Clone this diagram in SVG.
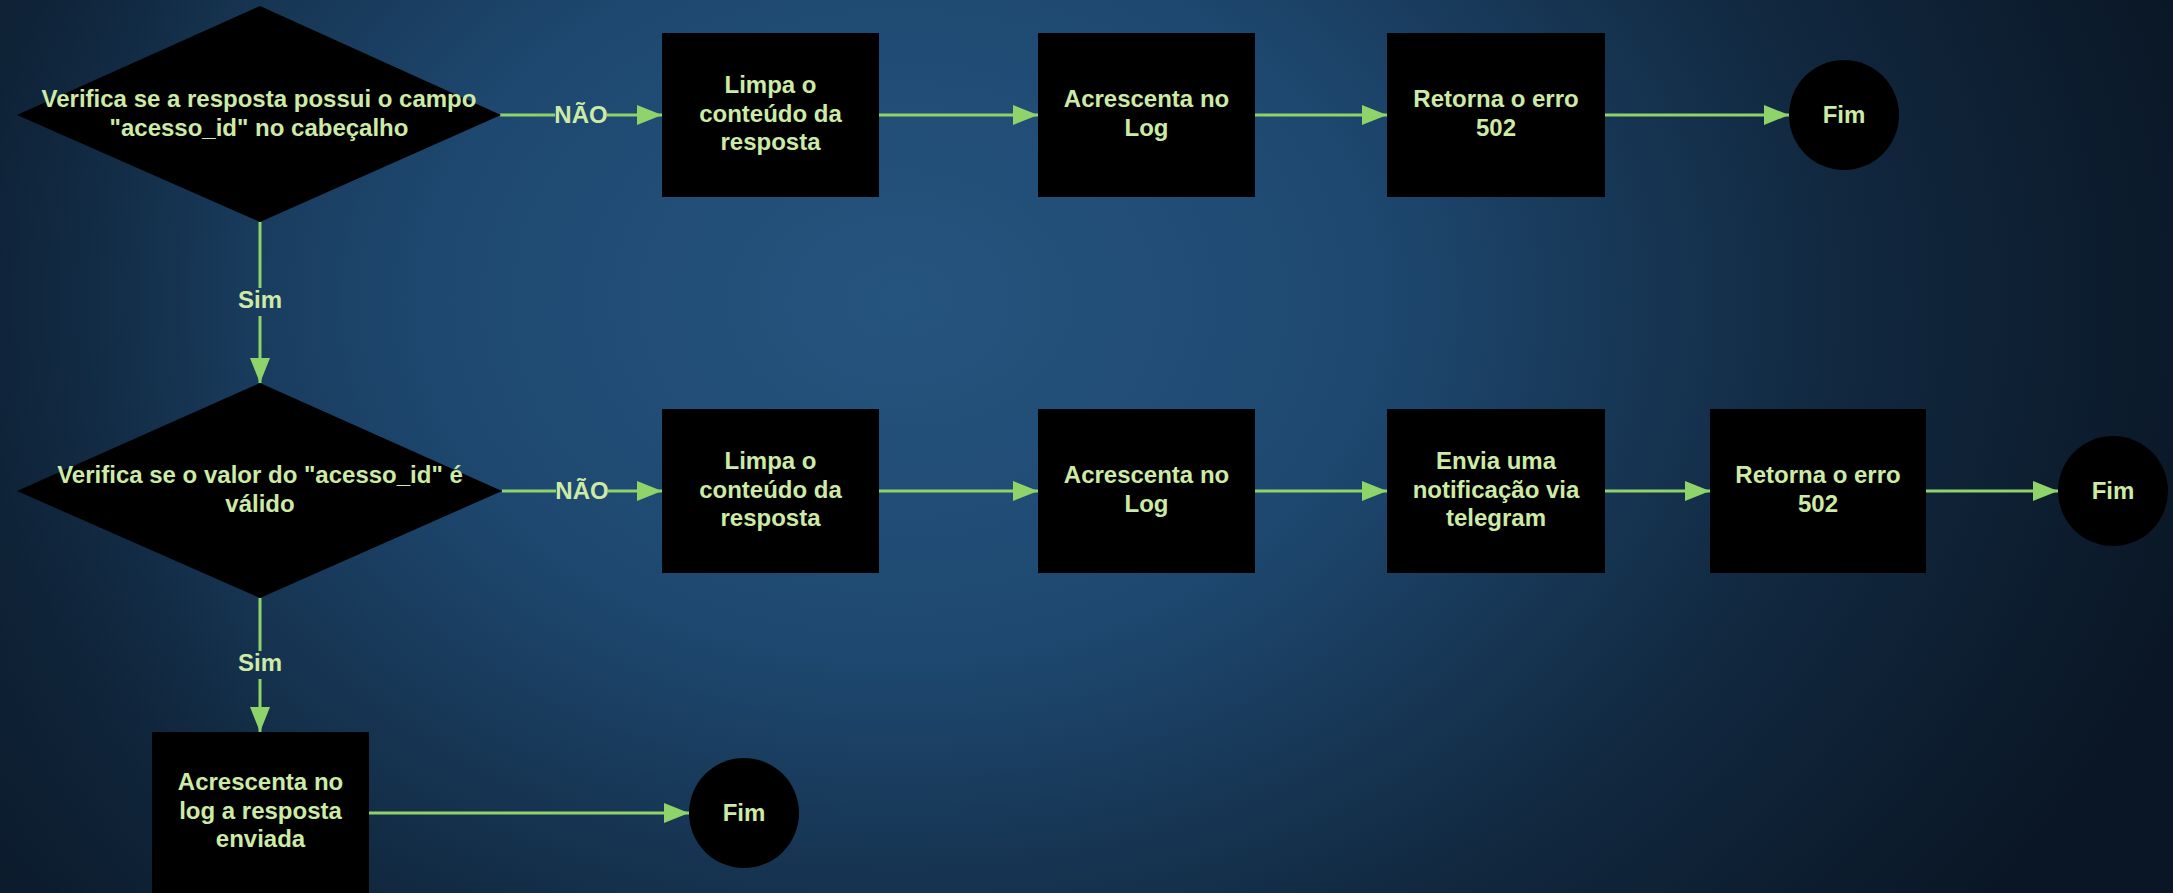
<svg xmlns="http://www.w3.org/2000/svg" width="2173" height="893" viewBox="0 0 2173 893">
<defs>
<radialGradient id="bg" cx="900" cy="300" r="1350" gradientUnits="userSpaceOnUse" gradientTransform="translate(900 300) scale(1 0.75) translate(-900 -300)">
<stop offset="0" stop-color="#25547e"/>
<stop offset="0.35" stop-color="#1e4870"/>
<stop offset="0.7" stop-color="#11283f"/>
<stop offset="1" stop-color="#0a1625"/>
</radialGradient>
<linearGradient id="lv" x1="0" y1="0" x2="1" y2="0">
<stop offset="0" stop-color="#0a1828" stop-opacity="0.35"/>
<stop offset="0.12" stop-color="#0a1828" stop-opacity="0"/>
<stop offset="1" stop-color="#0a1828" stop-opacity="0"/>
</linearGradient>
<marker id="ah" markerUnits="userSpaceOnUse" markerWidth="26" markerHeight="22" refX="25" refY="11" orient="auto">
<path d="M0,1 L25,11 L0,21 z" fill="#8fd46a"/>
</marker>
<style>
.n{fill:#000}
.t{font-family:"Liberation Sans",Arial,sans-serif;font-weight:bold;font-size:24px;fill:#cdeba6;text-anchor:middle}
.c{stroke:#8fd46a;stroke-width:3;fill:none}
</style>
</defs>
<rect width="2173" height="893" fill="url(#bg)"/>
<rect width="2173" height="893" fill="url(#lv)"/>

<g id="connectors">
<path class="c" d="M500,115 H555"/>
<path class="c" d="M607,115 H662" marker-end="url(#ah)"/>
<text class="t" x="581" y="123">NÃO</text>
<path class="c" d="M879,115 H1038" marker-end="url(#ah)"/>
<path class="c" d="M1255,115 H1387" marker-end="url(#ah)"/>
<path class="c" d="M1605,115 H1789" marker-end="url(#ah)"/>
<path class="c" d="M260,222 V288"/>
<path class="c" d="M260,316 V383" marker-end="url(#ah)"/>
<text class="t" x="260" y="308">Sim</text>
<path class="c" d="M502,491 H556"/>
<path class="c" d="M608,491 H662" marker-end="url(#ah)"/>
<text class="t" x="582" y="499">NÃO</text>
<path class="c" d="M879,491 H1038" marker-end="url(#ah)"/>
<path class="c" d="M1255,491 H1387" marker-end="url(#ah)"/>
<path class="c" d="M1605,491 H1710" marker-end="url(#ah)"/>
<path class="c" d="M1926,491 H2058" marker-end="url(#ah)"/>
<path class="c" d="M260,598 V651"/>
<path class="c" d="M260,679 V732" marker-end="url(#ah)"/>
<text class="t" x="260" y="671">Sim</text>
<path class="c" d="M369,813 H689" marker-end="url(#ah)"/>
</g>

<g id="d1">
<polygon class="n" points="260,6 501,115 260,222 17,115"/>
<text class="t" x="259" y="107">Verifica se a resposta possui o campo</text>
<text class="t" x="259" y="136">"acesso_id" no cabeçalho</text>
</g>
<g id="b1">
<rect class="n" x="662" y="33" width="217" height="164"/>
<text class="t" x="770.5" y="93">Limpa o</text>
<text class="t" x="770.5" y="122">conteúdo da</text>
<text class="t" x="770.5" y="150">resposta</text>
</g>
<g id="b2">
<rect class="n" x="1038" y="33" width="217" height="164"/>
<text class="t" x="1146.5" y="107">Acrescenta no</text>
<text class="t" x="1146.5" y="136">Log</text>
</g>
<g id="b3">
<rect class="n" x="1387" y="33" width="218" height="164"/>
<text class="t" x="1496" y="107">Retorna o erro</text>
<text class="t" x="1496" y="136">502</text>
</g>
<g id="f1">
<circle class="n" cx="1844" cy="115" r="55"/>
<text class="t" x="1844" y="123">Fim</text>
</g>

<g id="d2">
<polygon class="n" points="260,383 502,491 260,598 17,491"/>
<text class="t" x="260" y="483">Verifica se o valor do "acesso_id" é</text>
<text class="t" x="260" y="512">válido</text>
</g>
<g id="b4">
<rect class="n" x="662" y="409" width="217" height="164"/>
<text class="t" x="770.5" y="469">Limpa o</text>
<text class="t" x="770.5" y="498">conteúdo da</text>
<text class="t" x="770.5" y="526">resposta</text>
</g>
<g id="b5">
<rect class="n" x="1038" y="409" width="217" height="164"/>
<text class="t" x="1146.5" y="483">Acrescenta no</text>
<text class="t" x="1146.5" y="512">Log</text>
</g>
<g id="b6">
<rect class="n" x="1387" y="409" width="218" height="164"/>
<text class="t" x="1496" y="469">Envia uma</text>
<text class="t" x="1496" y="498">notificação via</text>
<text class="t" x="1496" y="526">telegram</text>
</g>
<g id="b7">
<rect class="n" x="1710" y="409" width="216" height="164"/>
<text class="t" x="1818" y="483">Retorna o erro</text>
<text class="t" x="1818" y="512">502</text>
</g>
<g id="f2">
<circle class="n" cx="2113" cy="491" r="55"/>
<text class="t" x="2113" y="499">Fim</text>
</g>

<g id="b8">
<rect class="n" x="152" y="732" width="217" height="164"/>
<text class="t" x="260.5" y="790">Acrescenta no</text>
<text class="t" x="260.5" y="819">log a resposta</text>
<text class="t" x="260.5" y="847">enviada</text>
</g>
<g id="f3">
<circle class="n" cx="744" cy="813" r="55"/>
<text class="t" x="744" y="821">Fim</text>
</g>
</svg>
